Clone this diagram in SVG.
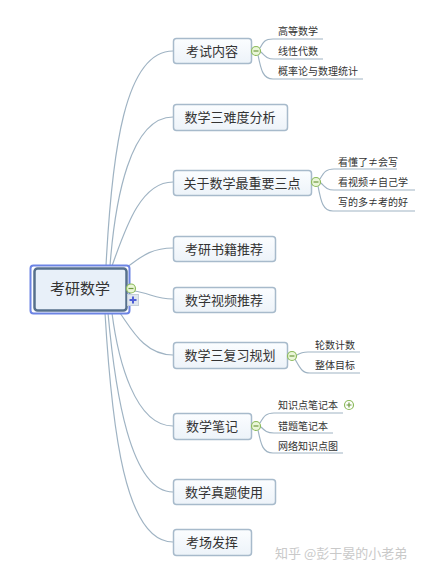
<svg xmlns="http://www.w3.org/2000/svg" width="421" height="572" viewBox="0 0 421 572">
<defs>
<linearGradient id="ng" x1="0" y1="0" x2="0" y2="1">
<stop offset="0" stop-color="#fbfdff"/>
<stop offset="1" stop-color="#edf3f9"/>
</linearGradient>
</defs>
<style>
text{font-family:"Noto Sans CJK SC","Liberation Sans",sans-serif;fill:#333}
.node rect{fill:url(#ng);stroke:#a7bacb;stroke-width:1.5}
.node text{font-size:13px;text-anchor:middle}
.sub{font-size:10px}
.conn path{fill:none;stroke:#9fb3c3;stroke-width:1.2}
.minus circle{fill:#eaf6d8;stroke:#8dbb5c;stroke-width:1.2}
.minus line{stroke:#6e9a40;stroke-width:1.2}
</style>
<rect width="421" height="572" fill="#fff"/>
<g class="conn">
<path d="M106,266 C112,150 125,51 173,51"/>
<path d="M110,266 C115,200 130,117 173,117"/>
<path d="M112,266 C125,230 140,182 173,182"/>
<path d="M127,267 C140,258 150,248 173,248"/>
<path d="M134,291 C150,293 155,299 173,299"/>
<path d="M120,313 C132,330 145,355 173,355"/>
<path d="M112,313 C118,360 135,426 173,426"/>
<path d="M108,313 C115,390 130,492 173,492"/>
<path d="M105,313 C112,430 125,542 173,542"/>
<path d="M260,48 C263,42 265,39 273,39 L323,39"/>
<path d="M261,52 C265,56 267,59 274,59 L323,59"/>
<path d="M258,55 C261,70 263,79 273,79 L363,79"/>
<path d="M320,179 C324,172 326,169 334,169 L397,169"/>
<path d="M321,183 C325,187 327,190 334,190 L415,190"/>
<path d="M318,186 C321,202 323,211 333,211 L415,211"/>
<path d="M297,355 C300,353 302,352 308,352 L360,352"/>
<path d="M295,359 C300,368 302,373 310,373 L360,373"/>
<path d="M260,423 C264,416 266,413 274,413 L343,413"/>
<path d="M261,427 C265,431 267,433 274,433 L333,433"/>
<path d="M258,430 C261,445 263,453 273,453 L343,453"/>
</g>
<g id="root">
<rect x="30.5" y="265.5" width="99" height="48" rx="3" fill="#fff" stroke="#6c84e4" stroke-width="2"/>
<rect x="34.5" y="268.5" width="92" height="42" rx="3" fill="#e8f0f9" stroke="#56708c" stroke-width="2.5"/>
<text x="80" y="294" style="font-size:15px;text-anchor:middle">考研数学</text>
<g class="minus"><circle cx="131" cy="288.5" r="4.5"/><line x1="128.5" y1="288.5" x2="133.5" y2="288.5"/></g>
<rect x="127.5" y="294.5" width="11" height="11" fill="#dfe6ee" stroke="#c5cfd9" stroke-width="1"/>
<path d="M133,296.5 V303.5 M129.5,300 H136.5" stroke="#4f5fd6" stroke-width="2" fill="none"/>
</g>
<g id="n1" class="node"><rect x="173.5" y="38.5" width="78" height="25" rx="3"/><text x="212" y="55.5">考试内容</text></g>
<g id="n1m" class="minus"><circle cx="256" cy="51" r="4.5"/><line x1="253.5" y1="51" x2="258.5" y2="51"/></g>
<g id="n1a"><text class="sub" x="278" y="35">高等数学</text></g>
<g id="n1b"><text class="sub" x="278" y="55">线性代数</text></g>
<g id="n1c"><text class="sub" x="278" y="75">概率论与数理统计</text></g>
<g id="n2" class="node"><rect x="173.5" y="104.5" width="114" height="26" rx="3"/><text x="230" y="122">数学三难度分析</text></g>
<g id="n3" class="node"><rect x="173.5" y="170.5" width="138" height="25" rx="3"/><text x="242" y="187.5">关于数学最重要三点</text></g>
<g id="n3m" class="minus"><circle cx="316" cy="182" r="4.5"/><line x1="313.5" y1="182" x2="318.5" y2="182"/></g>
<g id="n3a"><text class="sub" x="338" y="166">看懂了≠会写</text></g>
<g id="n3b"><text class="sub" x="338" y="186">看视频≠自己学</text></g>
<g id="n3c"><text class="sub" x="338" y="206">写的多≠考的好</text></g>
<g id="n4" class="node"><rect x="173.5" y="236.5" width="102" height="25" rx="3"/><text x="224" y="253.5">考研书籍推荐</text></g>
<g id="n5" class="node"><rect x="173.5" y="287.5" width="102" height="25" rx="3"/><text x="224" y="304.5">数学视频推荐</text></g>
<g id="n6" class="node"><rect x="173.5" y="342.5" width="114" height="26" rx="3"/><text x="230" y="360">数学三复习规划</text></g>
<g id="n6m" class="minus"><circle cx="292" cy="356" r="4.5"/><line x1="289.5" y1="356" x2="294.5" y2="356"/></g>
<g id="n6a"><text class="sub" x="315" y="349">轮数计数</text></g>
<g id="n6b"><text class="sub" x="315" y="369">整体目标</text></g>
<g id="n7" class="node"><rect x="173.5" y="413.5" width="78" height="26" rx="3"/><text x="212" y="431">数学笔记</text></g>
<g id="n7m" class="minus"><circle cx="256" cy="426" r="4.5"/><line x1="253.5" y1="426" x2="258.5" y2="426"/></g>
<g id="n7a"><text class="sub" x="278" y="409">知识点笔记本</text>
<circle cx="349" cy="405" r="4.5" fill="#fff" stroke="#8dbb5c" stroke-width="1.2"/>
<path d="M346.5,405 H351.5 M349,402.5 V407.5" stroke="#6e9a40" stroke-width="1.2" fill="none"/></g>
<g id="n7b"><text class="sub" x="278" y="430">错题笔记本</text></g>
<g id="n7c"><text class="sub" x="278" y="450">网络知识点图</text></g>
<g id="n8" class="node"><rect x="173.5" y="479.5" width="102" height="25" rx="3"/><text x="224" y="496.5">数学真题使用</text></g>
<g id="n9" class="node"><rect x="173.5" y="529.5" width="78" height="26" rx="3"/><text x="212" y="547">考场发挥</text></g>
<text x="275" y="558" style="font-size:13px;fill:#c9c9c9">知乎 @彭于晏的小老弟</text>
</svg>
